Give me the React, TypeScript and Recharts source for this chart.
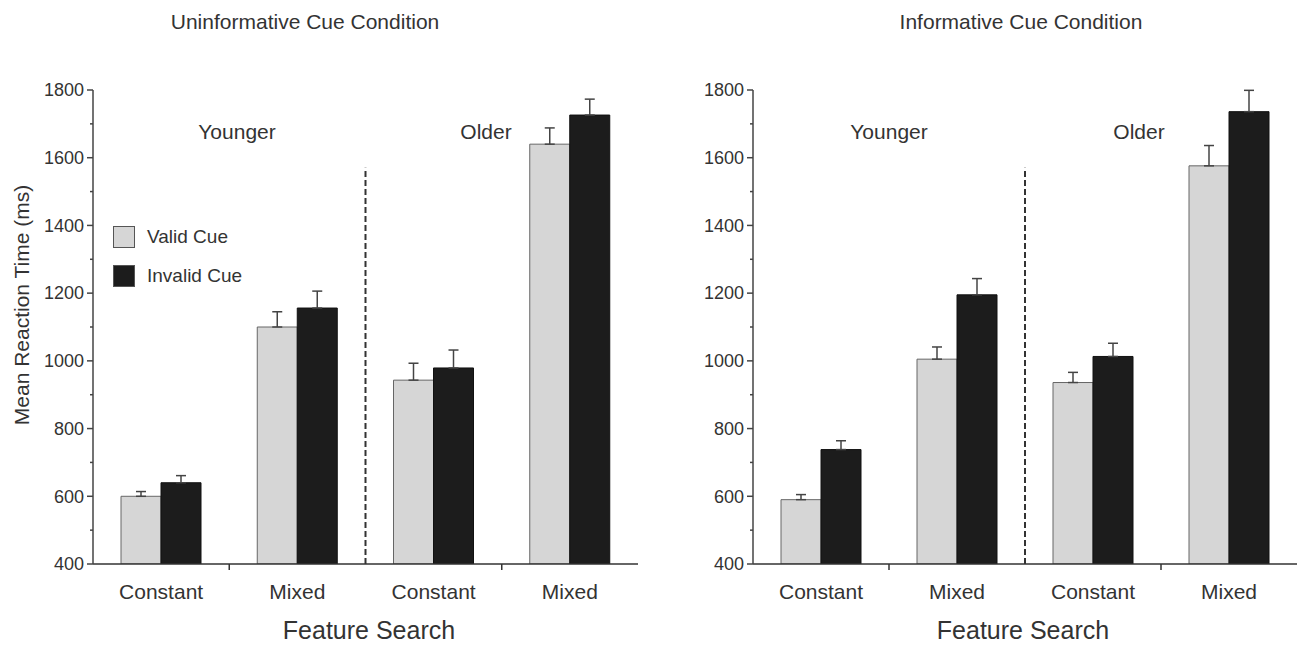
import React from "react";
import { BarChart, Bar, XAxis, YAxis, ErrorBar, ReferenceLine, Legend } from "recharts";

const categories = ["Y-Constant", "Y-Mixed", "O-Constant", "O-Mixed"];
const tickLabels = ["Constant", "Mixed", "Constant", "Mixed"];
const groupLabels = ["Younger", "Older"];
const yTicks = [400, 500, 600, 700, 800, 900, 1000, 1100, 1200, 1300, 1400, 1500, 1600, 1700, 1800];
const dividerTop = 1570;

// Uninformative cue condition
const uninfValid = [600, 1100, 943, 1640];
const uninfValidErr = [14, 45, 50, 48];
const uninfInvalid = [640, 1156, 979, 1726];
const uninfInvalidErr = [21, 50, 53, 47];

// Informative cue condition
const infValid = [590, 1005, 936, 1576];
const infValidErr = [15, 36, 30, 60];
const infInvalid = [738, 1195, 1013, 1736];
const infInvalidErr = [26, 48, 39, 63];

const FONT = '"Liberation Sans", Arial, sans-serif';
const TEXT = "#333";

const buildRows = (valid: number[], vErr: number[], invalid: number[], iErr: number[]) =>
  categories.map((cat, i) => ({
    cat,
    valid: valid[i],
    validErr: [0, vErr[i]],
    invalid: invalid[i],
    invalidErr: [0, iErr[i]],
  }));

const YTick = (props: any) => {
  const { x, y, payload } = props;
  const major = payload.value % 200 === 0;
  return (
    <g>
      <line x1={x - (major ? 6 : 3)} x2={x} y1={y} y2={y} stroke="#444" strokeWidth={1.5} />
      {major && (
        <text x={x - 9} y={y} dy="0.35em" textAnchor="end" fontSize={18} fill={TEXT} fontFamily={FONT}>
          {payload.value}
        </text>
      )}
    </g>
  );
};

const XTick = (props: any) => {
  const { x, y, index } = props;
  return (
    <text x={x} y={y + 35} textAnchor="middle" fontSize={21} fill={TEXT} fontFamily={FONT}>
      {tickLabels[index]}
    </text>
  );
};

const LegendBox = (props: any) => {
  const items = [...(props.payload || [])].sort((a: any, b: any) =>
    a.value === "Valid Cue" ? -1 : b.value === "Valid Cue" ? 1 : 0
  );
  return (
    <div style={{ fontFamily: FONT }}>
      {items.map((e: any) => (
        <div key={e.value} style={{ display: "flex", alignItems: "center", height: 22, marginBottom: 17 }}>
          <span
            style={{
              width: 22,
              height: 22,
              background: e.color,
              border: "1px solid #555",
              boxSizing: "border-box",
              display: "inline-block",
            }}
          />
          <span style={{ marginLeft: 12, fontSize: 19, color: TEXT }}>{e.value}</span>
        </div>
      ))}
    </div>
  );
};

const Panel = ({ rows, width, marginRight, showLegend }: any) => (
  <BarChart
    width={width}
    height={646}
    data={rows}
    margin={{ top: 90, right: marginRight, bottom: 0, left: 33 }}
    barGap={0}
    barSize={40}
  >
    <XAxis
      dataKey="cat"
      height={82}
      tick={<XTick />}
      tickLine={false}
      tickSize={0}
      tickMargin={0}
      axisLine={{ stroke: "#333", strokeWidth: 1.5 }}
      interval={0}
    />
    <YAxis
      type="number"
      domain={[400, 1800]}
      ticks={yTicks}
      interval={0}
      width={60}
      tick={<YTick />}
      tickLine={false}
      tickSize={0}
      tickMargin={0}
      axisLine={{ stroke: "#444", strokeWidth: 1.5 }}
      allowDataOverflow
    />
    {showLegend && (
      <Legend
        layout="vertical"
        align="center"
        verticalAlign="middle"
        content={<LegendBox />}
        wrapperStyle={{ left: 113, top: 226, width: 200, height: 80 }}
      />
    )}
    <ReferenceLine
      segment={[{ x: categories[1], y: 400 }, { x: categories[1], y: dividerTop }]}
      position="end"
      stroke="#333"
      strokeWidth={2}
      strokeDasharray="6 3"
      ifOverflow="visible"
    />
    <ReferenceLine
      segment={[{ x: categories[0], y: 400 }, { x: categories[0], y: 382 }]}
      position="end"
      stroke="#333"
      strokeWidth={1.5}
      ifOverflow="visible"
    />
    <ReferenceLine
      segment={[{ x: categories[2], y: 400 }, { x: categories[2], y: 382 }]}
      position="end"
      stroke="#333"
      strokeWidth={1.5}
      ifOverflow="visible"
    />
    <Bar dataKey="valid" name="Valid Cue" fill="#d6d6d6" stroke="#666" strokeWidth={1} isAnimationActive={false}>
      <ErrorBar dataKey="validErr" width={5} stroke="#444" strokeWidth={1.5} direction="y" />
    </Bar>
    <Bar dataKey="invalid" name="Invalid Cue" fill="#1c1c1c" stroke="#111" strokeWidth={1} isAnimationActive={false}>
      <ErrorBar dataKey="invalidErr" width={5} stroke="#444" strokeWidth={1.5} direction="y" />
    </Bar>
  </BarChart>
);

const Txt = ({ x, y, size, children, rotate }: any) => (
  <div
    style={{
      position: "absolute",
      left: x,
      top: y,
      transform: `translate(-50%, -50%)${rotate ? " rotate(-90deg)" : ""}`,
      fontFamily: FONT,
      fontSize: size,
      color: TEXT,
      whiteSpace: "nowrap",
    }}
  >
    {children}
  </div>
);

export default function App() {
  const leftRows = buildRows(uninfValid, uninfValidErr, uninfInvalid, uninfInvalidErr);
  const rightRows = buildRows(infValid, infValidErr, infInvalid, infInvalidErr);
  return (
    <div style={{ position: "absolute", left: 0, top: 0, width: 1304, height: 646, background: "#fff" }}>
      <div style={{ position: "absolute", left: 0, top: 0 }}>
        <Panel rows={leftRows} width={650} marginRight={12} showLegend />
      </div>
      <div style={{ position: "absolute", left: 660, top: 0 }}>
        <Panel rows={rightRows} width={644} marginRight={7} showLegend={false} />
      </div>
      <Txt x={305} y={22} size={21}>Uninformative Cue Condition</Txt>
      <Txt x={1021} y={22} size={21}>Informative Cue Condition</Txt>
      <Txt x={22} y={305} size={21} rotate>Mean Reaction Time (ms)</Txt>
      <Txt x={237} y={132} size={21}>{groupLabels[0]}</Txt>
      <Txt x={486} y={132} size={21}>{groupLabels[1]}</Txt>
      <Txt x={889} y={132} size={21}>{groupLabels[0]}</Txt>
      <Txt x={1139} y={132} size={21}>{groupLabels[1]}</Txt>
      <Txt x={369} y={630} size={25}>Feature Search</Txt>
      <Txt x={1023} y={630} size={25}>Feature Search</Txt>
    </div>
  );
}
